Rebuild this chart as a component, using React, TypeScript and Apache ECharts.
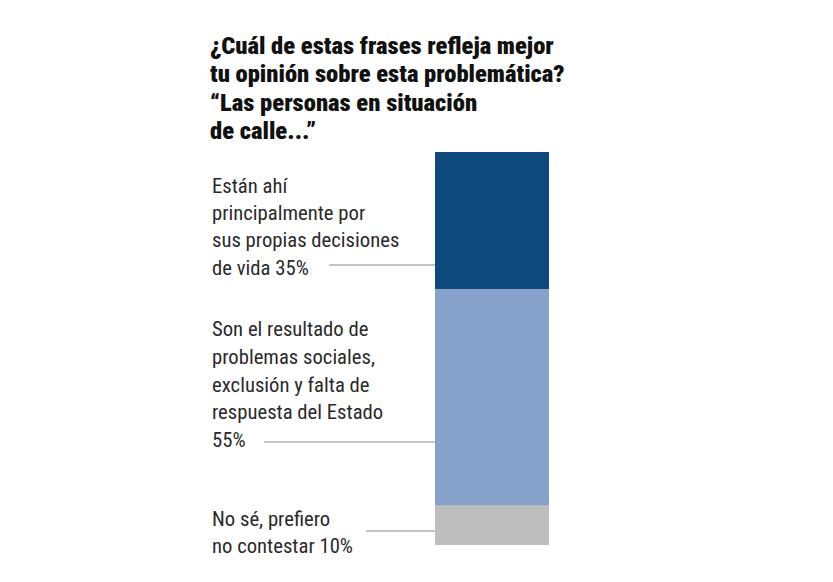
import React, { useEffect, useRef } from "react";
import * as echarts from "echarts";

const categories = ["Respuesta"];
const answerLabels = [
  "Están ahí\nprincipalmente por\nsus propias decisiones\nde vida 35%",
  "Son el resultado de\nproblemas sociales,\nexclusión y falta de\nrespuesta del Estado\n55%",
  "No sé, prefiero\nno contestar 10%",
];
const answerValues = [35, 55, 10];
const titleText =
  "¿Cuál de estas frases refleja mejor\ntu opinión sobre esta problemática?\n“Las personas en situación\nde calle...”";

const colors = ["#0e4a7d", "#86a1ca", "#bebebe"];
// layout: text top, line height, leader line start x, leader line y
const labelLayout = [
  { top: 172, lh: 27.3, lineX: 329, lineY: 265 },
  { top: 315, lh: 27.8, lineX: 264, lineY: 442 },
  { top: 505, lh: 27, lineX: 366, lineY: 531 },
];
const FONT = '"Liberation Sans Narrow", "Roboto Condensed", "DejaVu Sans Condensed", Roboto, sans-serif';

export default function App() {
  const ref = useRef<HTMLDivElement>(null);
  useEffect(() => {
    document.body.style.margin = "0";
    const chart = echarts.init(ref.current!, null, { renderer: "svg" });
    const option: any = {
      animation: false,
      backgroundColor: "#ffffff",
      title: {
        text: titleText,
        left: 210,
        top: 31,
        padding: 0,
        textStyle: {
          fontFamily: FONT,
          fontSize: 24.6,
          fontWeight: 900,
          lineHeight: 28.5,
          color: "#111111",
        },
      },
      grid: { left: 435, top: 152, width: 114, height: 393 },
      xAxis: { type: "category", data: categories, show: false },
      yAxis: { type: "value", inverse: true, min: 0, max: 100, show: false },
      series: answerValues.map((v, i) => ({
        type: "bar",
        stack: "total",
        barWidth: "100%",
        data: [v],
        itemStyle: { color: colors[i] },
        silent: true,
      })),
    };
    chart.setOption(option);
    const center = chart.convertToPixel({ gridIndex: 0 }, [0, 0]) as number[];
    const barLeft = center[0] - 114 / 2;
    const graphics: any[] = [];
    answerLabels.forEach((t, i) => {
      const L = labelLayout[i];
      graphics.push({
        type: "text",
        left: 212,
        top: L.top,
        style: {
          text: t,
          fontFamily: FONT,
          fontSize: 20.7,
          lineHeight: L.lh,
          fill: "#2a2a2a",
        },
      });
      graphics.push({
        type: "line",
        shape: { x1: L.lineX, y1: L.lineY, x2: barLeft, y2: L.lineY },
        style: { stroke: "#8a8a8a", lineWidth: 1.2 },
      });
    });
    chart.setOption({ graphic: graphics });
    return () => chart.dispose();
  }, []);
  return <div ref={ref} style={{ width: 833, height: 582 }} />;
}
